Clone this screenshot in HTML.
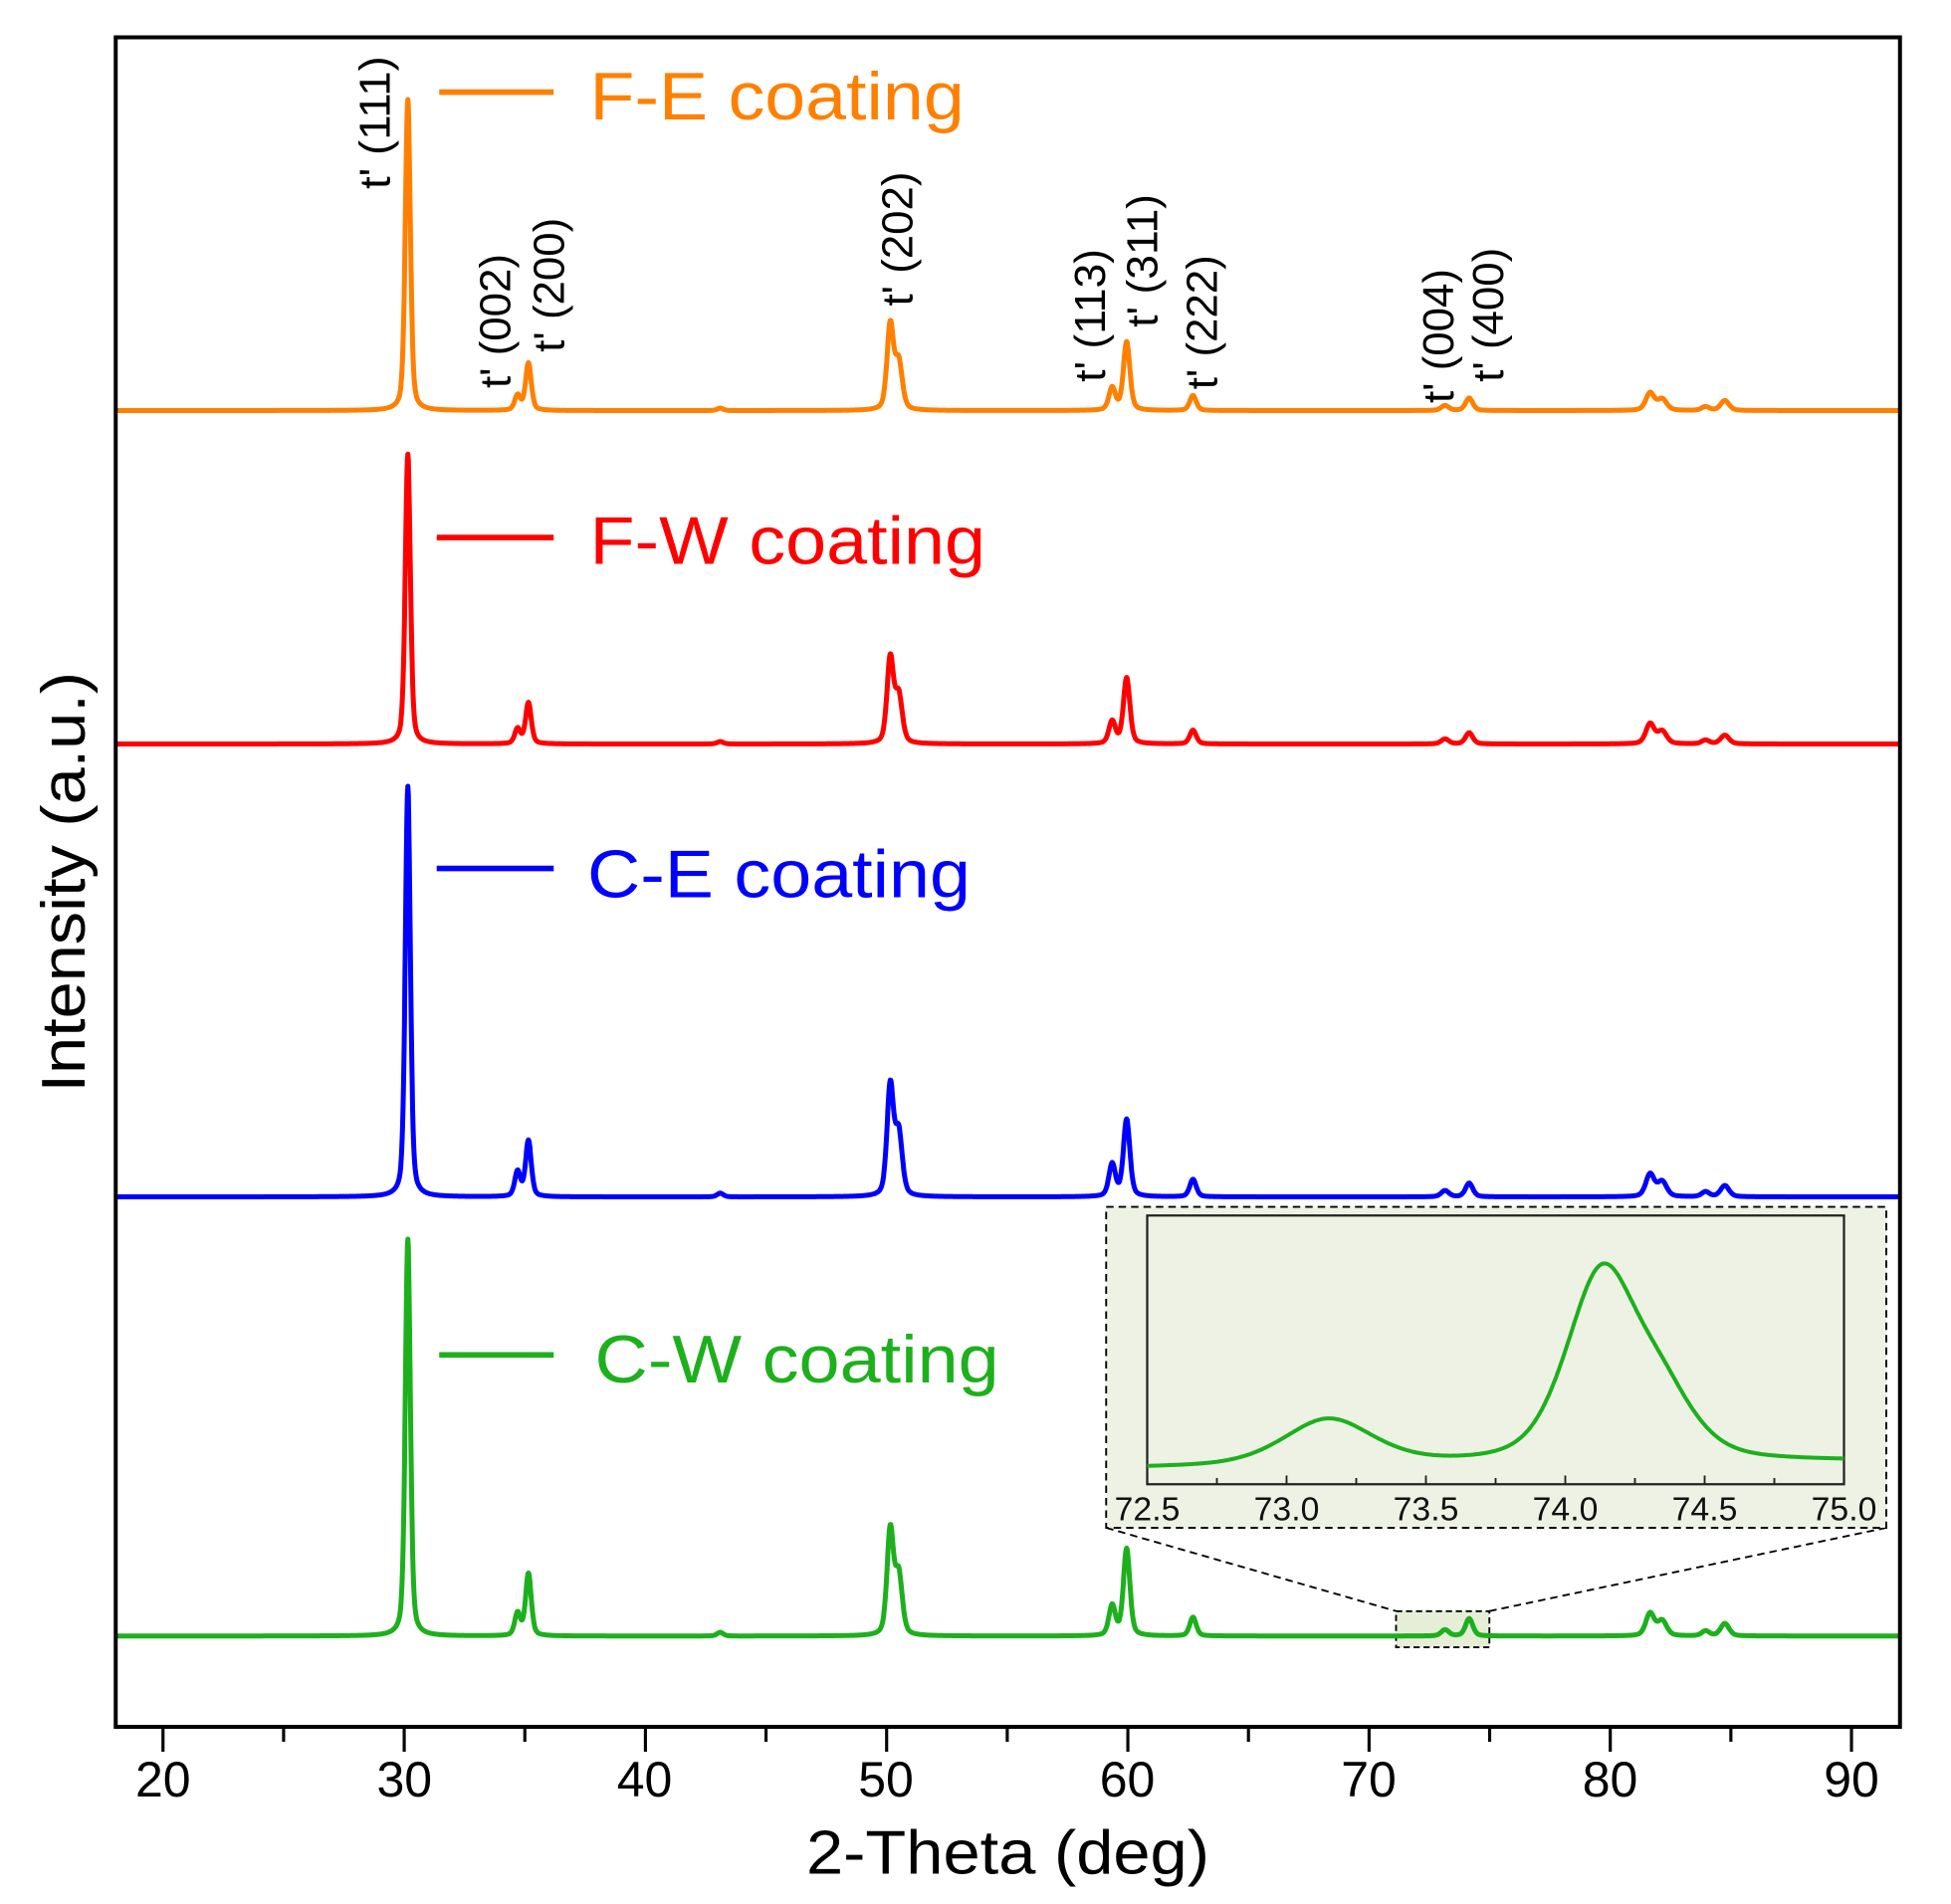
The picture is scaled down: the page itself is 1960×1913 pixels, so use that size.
<!DOCTYPE html>
<html><head><meta charset="utf-8">
<style>
html,body{margin:0;padding:0;background:#fff;}
svg{display:block;}
text{font-family:"Liberation Sans",sans-serif;}
</style></head>
<body>
<svg id="s" width="1960" height="1913" viewBox="0 0 1568 1530.4" preserveAspectRatio="none" xmlns="http://www.w3.org/2000/svg">
<rect x="0" y="0" width="1568" height="1531" fill="#fff"/>
<line x1="889" y1="1228" x2="1122" y2="1295" stroke="#000" stroke-width="1.5" stroke-dasharray="6,4"/>
<line x1="1516" y1="1228" x2="1197" y2="1295" stroke="#000" stroke-width="1.5" stroke-dasharray="6,4"/>
<rect x="1122" y="1295" width="75" height="29" fill="#e6eed8" stroke="#000" stroke-width="1.5" stroke-dasharray="5,3"/>
<g id="curves"></g>
<rect x="889" y="970" width="627" height="258" fill="#eef2e4" stroke="#000" stroke-width="1.5" stroke-dasharray="6,4"/>
<rect x="922" y="977" width="560" height="216" fill="#eef2e4" stroke="#222" stroke-width="1.8"/>
<g id="inset"></g>
<g font-size="27" text-anchor="middle" fill="#111">
<text x="922" y="1222">72.5</text><text x="1034" y="1222">73.0</text><text x="1146" y="1222">73.5</text>
<text x="1258" y="1222">74.0</text><text x="1370" y="1222">74.5</text><text x="1482" y="1222">75.0</text>
</g>
<rect x="93" y="30" width="1434" height="1358" fill="none" stroke="#000" stroke-width="3.2"/>
<g id="ticks" stroke="#000" stroke-width="2.5"></g>
<g font-size="40" text-anchor="middle" fill="#000">
<text x="131" y="1444">20</text><text x="325" y="1444">30</text><text x="518" y="1444">40</text>
<text x="712" y="1444">50</text><text x="906" y="1444">60</text><text x="1100" y="1444">70</text>
<text x="1294" y="1444">80</text><text x="1488" y="1444">90</text>
</g>
<text x="648" y="1506" font-size="50" textLength="324" lengthAdjust="spacingAndGlyphs">2-Theta (deg)</text>
<text transform="translate(68,878) rotate(-90)" font-size="50" textLength="338" lengthAdjust="spacingAndGlyphs">Intensity (a.u.)</text>
<line x1="353" y1="74" x2="445" y2="74" stroke="#ff8000" stroke-width="4.5"/>
<text x="474" y="96" font-size="54" fill="#ff8000" textLength="301" lengthAdjust="spacingAndGlyphs">F-E coating</text>
<line x1="351" y1="432" x2="445" y2="432" stroke="#ff0000" stroke-width="4.5"/>
<text x="474" y="453" font-size="54" fill="#ff0000" textLength="318" lengthAdjust="spacingAndGlyphs">F-W coating</text>
<line x1="351" y1="698" x2="445" y2="698" stroke="#0000ff" stroke-width="4.5"/>
<text x="472" y="721" font-size="54" fill="#0000ff" textLength="308" lengthAdjust="spacingAndGlyphs">C-E coating</text>
<line x1="353" y1="1089" x2="445" y2="1089" stroke="#1db01d" stroke-width="4.5"/>
<text x="478" y="1111" font-size="54" fill="#1db01d" textLength="325" lengthAdjust="spacingAndGlyphs">C-W coating</text>
<g font-size="35" fill="#000">
<text transform="translate(313,152) rotate(-90)" textLength="107" lengthAdjust="spacingAndGlyphs">t' (111)</text>
<text transform="translate(410,312) rotate(-90)" textLength="108" lengthAdjust="spacingAndGlyphs">t' (002)</text>
<text transform="translate(453,283) rotate(-90)" textLength="108" lengthAdjust="spacingAndGlyphs">t' (200)</text>
<text transform="translate(733,246) rotate(-90)" textLength="108" lengthAdjust="spacingAndGlyphs">t' (202)</text>
<text transform="translate(888,307) rotate(-90)" textLength="107" lengthAdjust="spacingAndGlyphs">t' (113)</text>
<text transform="translate(930,263) rotate(-90)" textLength="107" lengthAdjust="spacingAndGlyphs">t' (311)</text>
<text transform="translate(978,313) rotate(-90)" textLength="108" lengthAdjust="spacingAndGlyphs">t' (222)</text>
<text transform="translate(1168,324) rotate(-90)" textLength="108" lengthAdjust="spacingAndGlyphs">t' (004)</text>
<text transform="translate(1208,307) rotate(-90)" textLength="108" lengthAdjust="spacingAndGlyphs">t' (400)</text>
</g>
</svg>
<script>
(function(){
var NS="http://www.w3.org/2000/svg";
function X(d){return 131+(d-20)*19.386;}
var pos=[30.15,34.7,35.15,43.1,50.15,50.5,59.35,59.95,62.7,73.15,74.15,81.65,82.15,83.95,84.75];
var wid=[0.25,0.28,0.28,0.3,0.32,0.35,0.32,0.32,0.32,0.38,0.36,0.42,0.45,0.38,0.42];
var S=[
 {c:"#ff8000",b:330,h:[250,12,38,2,68,38,18,55,12,4,10,14,9,3,8]},
 {c:"#ff0000",b:598,h:[233,12,33,2,68,38,18,53,11,4,9,16,10,3,7]},
 {c:"#0000ff",b:962,h:[330,20,45,3,88,50,26,62,14,5,11,18,12,4,9]},
 {c:"#1db01d",b:1315,h:[319,18,50,3,84,48,24,70,15,5,14,18,12,4,10]}
];
function pv(x,x0,w){var d=(x-x0)/(w/2);return 0.6*Math.exp(-0.693*d*d)+0.4/(1+d*d);}
var g=document.getElementById("curves");
S.forEach(function(s){
 var p="";
 for(var x=18.05;x<=91.95;x+=0.02){
  var y=0;for(var i=0;i<pos.length;i++){if(Math.abs(x-pos[i])<6)y+=s.h[i]*pv(x,pos[i],wid[i]);}
  p+=(p?"L":"M")+X(x).toFixed(1)+","+(s.b-y).toFixed(1);
 }
 var e=document.createElementNS(NS,"path");e.setAttribute("d",p);e.setAttribute("fill","none");
 e.setAttribute("stroke",s.c);e.setAttribute("stroke-width","4");e.setAttribute("stroke-linejoin","round");g.appendChild(e);
});
var p="";
for(var x=72.5;x<=75.0001;x+=0.005){
 var y=37*pv(x,73.15,0.38)+150*pv(x,74.13,0.3)+45*pv(x,74.35,0.28);
 var base=1172-2*(x-72.5);
 p+=(p?"L":"M")+(922+(x-72.5)*224).toFixed(1)+","+(base-y+8).toFixed(1);
}
var e=document.createElementNS(NS,"path");e.setAttribute("d",p);e.setAttribute("fill","none");
e.setAttribute("stroke","#1db01d");e.setAttribute("stroke-width","3.2");document.getElementById("inset").appendChild(e);
for(var i=0;i<=10;i++){var xx=922+i*56;var l=document.createElementNS(NS,"line");
 l.setAttribute("x1",xx);l.setAttribute("x2",xx);l.setAttribute("y1",1193);l.setAttribute("y2",i%2?1188:1186);
 l.setAttribute("stroke","#222");l.setAttribute("stroke-width","1.5");document.getElementById("inset").appendChild(l);}
var t=document.getElementById("ticks");
for(var d=20;d<=90;d+=5){var l=document.createElementNS(NS,"line");var xx=X(d);
 l.setAttribute("x1",xx);l.setAttribute("x2",xx);l.setAttribute("y1",1389);l.setAttribute("y2",d%10?1400:1408);t.appendChild(l);}
})();
</script>
</body></html>
